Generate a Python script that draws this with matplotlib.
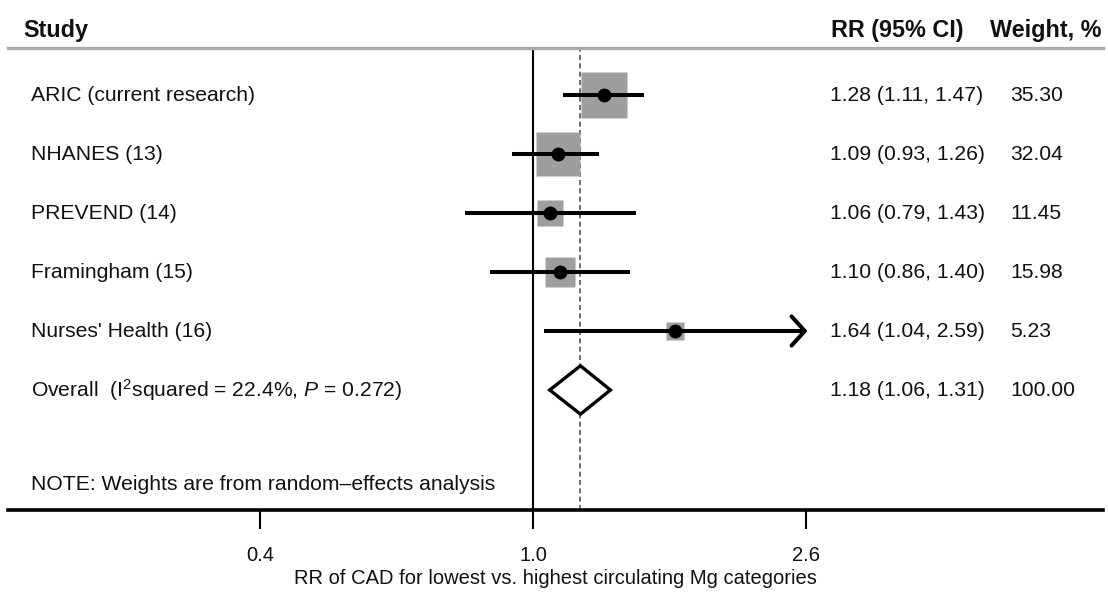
import numpy as np
import matplotlib
matplotlib.use('Agg')
import matplotlib.pyplot as plt
from matplotlib.transforms import blended_transform_factory

plt.rcParams['font.family'] = ['Liberation Sans', 'DejaVu Sans']
plt.rcParams['mathtext.fontset'] = 'custom'
plt.rcParams['mathtext.rm'] = 'Liberation Sans'
plt.rcParams['mathtext.it'] = 'Liberation Sans:italic'

STUDIES = ["ARIC (current research)", "NHANES (13)", "PREVEND (14)",
           "Framingham (15)", "Nurses' Health (16)"]
RR = [1.28, 1.09, 1.06, 1.10, 1.64]
LO = [1.11, 0.93, 0.79, 0.86, 1.04]
HI = [1.47, 1.26, 1.43, 1.40, 2.59]
WEIGHTS = [35.30, 32.04, 11.45, 15.98, 5.23]

OVERALL_LABEL = r"Overall  (I$^2$squared = 22.4%, $P$ = 0.272)"
OVERALL = [1.18, 1.06, 1.31]
OVERALL_WEIGHT = 100.00

TICK_VALUES = [1 / 2.59, 1.0, 2.59]
TICK_LABELS = ["0.4", "1.0", "2.6"]
NOTE = "NOTE: Weights are from random\u2013effects analysis"

W, H = 1108, 593
fig = plt.figure(figsize=(W / 100, H / 100), dpi=100)
ax = fig.add_axes([8 / W, 1 - 510 / H, 1095 / W, 462 / H])
ax.set_xscale('log')
ax.set_xlim(0.1605, 7.29)
ax.set_ylim(7.034, -0.797)

txt = dict(fontsize=15.2, va='center', color='#111111')
col = blended_transform_factory(fig.transFigure, ax.transData)

# reference lines
ax.axvline(1.0, color='black', lw=1.5, zorder=1)
ax.axvline(OVERALL[0], color='#555555', lw=1.2, ls=(0, (3, 2)), zorder=1)

xmax = TICK_VALUES[-1]
for i, (name, r, lo, hi, w) in enumerate(zip(STUDIES, RR, LO, HI, WEIGHTS)):
    side = 7.74 * np.sqrt(w) * 0.72
    ax.plot(r, i, marker='s', ms=side, color='#9e9e9e', mec='none', zorder=2)
    if hi >= xmax:
        ax.plot([lo, xmax], [i, i], color='black', lw=2.9, solid_capstyle='butt', zorder=3)
        ax.annotate('', xy=(xmax * 1.005, i), xytext=(xmax * 0.9, i),
                    arrowprops=dict(arrowstyle='->, head_length=0.95, head_width=1.05',
                                    lw=2.9, color='black', shrinkA=0, shrinkB=0,
                                    mutation_scale=10), zorder=3)
    else:
        ax.plot([lo, hi], [i, i], color='black', lw=2.9, solid_capstyle='butt', zorder=3)
    ax.plot(r, i, marker='o', ms=10, color='black', mec='none', zorder=4)
    ax.text(31 / W, i, name, transform=col, ha='left', **txt)
    ax.text(830 / W, i, f"{r:.2f} ({lo:.2f}, {hi:.2f})", transform=col, ha='left', **txt)
    ax.text(1010 / W, i, f"{w:.2f}", transform=col, ha='left', **txt)

# overall diamond
yo = len(STUDIES)
est, olo, ohi = OVERALL
ax.fill([olo, est, ohi, est, olo], [yo, yo - 0.41, yo, yo + 0.41, yo],
        facecolor='white', edgecolor='black', lw=2.4, zorder=4)
ax.text(31 / W, yo, OVERALL_LABEL, transform=col, ha='left', **txt)
ax.text(830 / W, yo, f"{est:.2f} ({olo:.2f}, {ohi:.2f})", transform=col, ha='left', **txt)
ax.text(1010 / W, yo, f"{OVERALL_WEIGHT:.2f}", transform=col, ha='left', **txt)

ax.text(31 / W, 6.61, NOTE, transform=col, ha='left', **txt)

# headers
hdr = dict(fontsize=16.8, fontweight='bold', va='center', color='#111111')
ax.text(23 / W, -1.10, "Study", transform=col, ha='left', clip_on=False, **hdr)
ax.text(831 / W, -1.10, "RR (95% CI)", transform=col, ha='left', clip_on=False, **hdr)
ax.text(990 / W, -1.10, "Weight, %", transform=col, ha='left', clip_on=False, **hdr)

# spines / axis
for s in ['left', 'right']:
    ax.spines[s].set_visible(False)
ax.spines['top'].set_color('#aaaaaa')
ax.spines['top'].set_linewidth(2.4)
ax.spines['bottom'].set_color('black')
ax.spines['bottom'].set_linewidth(2.6)
ax.set_yticks([])
ax.set_xticks(TICK_VALUES)
ax.set_xticklabels(TICK_LABELS)
ax.xaxis.set_minor_locator(matplotlib.ticker.NullLocator())
ax.tick_params(axis='x', direction='out', length=14, width=1.5, pad=12,
               labelsize=14.5, labelcolor='#111111')
ax.set_xlabel("RR of CAD for lowest vs. highest circulating Mg categories",
              fontsize=14.5, color='#111111', labelpad=3)

fig.savefig('out.png', dpi=100)
